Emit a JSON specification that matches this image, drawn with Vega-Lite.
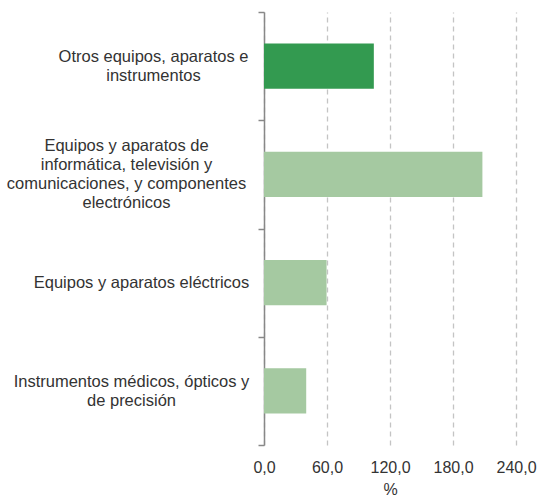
{
  "$schema": "https://vega.github.io/schema/vega-lite/v6.json",
  "width": 252,
  "height": 433,
  "autosize": {"type": "none"},
  "padding": {"left": 264, "top": 12, "right": 21, "bottom": 50},
  "config": {
    "view": {"stroke": null},
    "font": "Liberation Sans",
    "locale": {"number": {"decimal": ",", "thousands": ".", "grouping": [3], "currency": ["", " €"]}}
  },
  "data": {
    "values": [
      {"categoria": "Otros equipos, aparatos e instrumentos", "valor": 104.6},
      {"categoria": "Equipos y aparatos de informática, televisión y comunicaciones, y componentes electrónicos", "valor": 208.0},
      {"categoria": "Equipos y aparatos eléctricos", "valor": 59.6},
      {"categoria": "Instrumentos médicos, ópticos y de precisión", "valor": 40.2}
    ]
  },
  "mark": {"type": "bar", "height": {"band": 0.416}},
  "encoding": {
    "y": {
      "field": "categoria",
      "type": "nominal",
      "sort": null,
      "scale": {"paddingInner": 0, "paddingOuter": 0},
      "axis": {
        "title": null,
        "domainColor": "#888888",
        "domainWidth": 1.5,
        "tickColor": "#888888",
        "tickWidth": 1.5,
        "tickSize": 6,
        "tickBand": "extent",
        "labelFontSize": 16.5,
        "labelColor": "#333333",
        "labelAlign": "center",
        "labelLimit": 400,
        "labelLineHeight": 19,
        "labelPadding": {"expr": "datum.value == 'Otros equipos, aparatos e instrumentos' ? 105 : datum.value == 'Equipos y aparatos eléctricos' ? 117 : datum.value == 'Instrumentos médicos, ópticos y de precisión' ? 127 : 132"},
        "labelOffset": {"expr": "datum.value == 'Equipos y aparatos eléctricos' ? 0 : datum.value == 'Equipos y aparatos de informática, televisión y comunicaciones, y componentes electrónicos' ? -28.5 : -9.5"},
        "labelExpr": "datum.value == 'Otros equipos, aparatos e instrumentos' ? ['Otros equipos, aparatos e', 'instrumentos'] : datum.value == 'Equipos y aparatos eléctricos' ? 'Equipos y aparatos eléctricos' : datum.value == 'Instrumentos médicos, ópticos y de precisión' ? ['Instrumentos médicos, ópticos y', 'de precisión'] : datum.value == 'Equipos y aparatos de informática, televisión y comunicaciones, y componentes electrónicos' ? ['Equipos y aparatos de', 'informática, televisión y', 'comunicaciones, y componentes', 'electrónicos'] : ''"
      }
    },
    "x": {
      "field": "valor",
      "type": "quantitative",
      "scale": {"domain": [0, 240], "nice": false},
      "axis": {
        "title": "%",
        "titleFontSize": 16,
        "titleFontWeight": "normal",
        "titleColor": "#333333",
        "titlePadding": 6,
        "values": [0, 60, 120, 180, 240],
        "format": ".1f",
        "domain": false,
        "ticks": false,
        "labelFontSize": 16,
        "labelColor": "#333333",
        "labelPadding": 14,
        "labelFlush": false,
        "grid": true,
        "gridColor": "#c4c4c4",
        "gridDash": [5, 4],
        "gridWidth": 1.3
      }
    },
    "color": {
      "field": "categoria",
      "type": "nominal",
      "legend": null,
      "scale": {
        "domain": [
          "Otros equipos, aparatos e instrumentos",
          "Equipos y aparatos de informática, televisión y comunicaciones, y componentes electrónicos",
          "Equipos y aparatos eléctricos",
          "Instrumentos médicos, ópticos y de precisión"
        ],
        "range": ["#339a50", "#a5c9a1", "#a5c9a1", "#a5c9a1"]
      }
    }
  }
}
